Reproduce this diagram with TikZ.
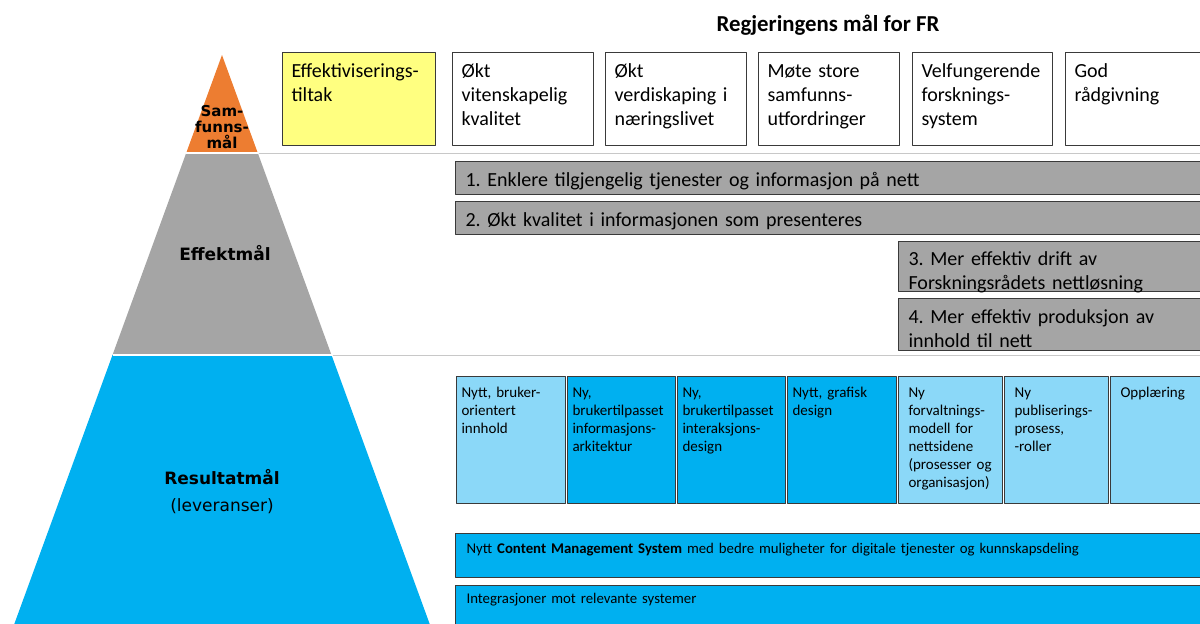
\documentclass[tikz,border=0pt]{standalone}
\usepackage{fontspec}
\setmainfont{Carlito}
\newfontfamily\pyrfont{DejaVu Sans}

\definecolor{samfunn}{HTML}{ED7D31}
\definecolor{effekt}{HTML}{A5A5A5}
\definecolor{resultat}{HTML}{00B0F0}
\definecolor{lysblaa}{HTML}{8BD8F8}
\definecolor{tiltak}{HTML}{FFFF80}
\definecolor{ramme}{HTML}{3A3A3A}
\definecolor{skillelinje}{HTML}{C8C8C8}

\hyphenpenalty=10000
\exhyphenpenalty=10000
\frenchspacing

\tikzset{
  boks/.style={draw=ramme, line width=1.1pt, anchor=north west, inner ysep=0pt, align=left},
  maal/.style={boks, fill=white, inner xsep=9pt, text height=24.5pt, text depth=68.5pt,
    font=\fontsize{20}{24}\selectfont},
  effektbar/.style={boks, fill=effekt, inner xsep=10pt, font=\fontsize{20}{24.5}\selectfont},
  leveranse/.style={boks, text height=20.5pt, text depth=106.5pt, font=\fontsize{15}{18}\selectfont},
  system/.style={boks, fill=resultat, inner xsep=11pt, text width=735pt, font=\fontsize{14.8}{17}\selectfont},
  niva/.style={align=center, inner sep=0pt},
  skille/.style={draw=skillelinje, line width=1pt}
}

\begin{document}
\begin{tikzpicture}[x=1pt, y=-1pt, line join=round]

            \useasboundingbox (0,0) rectangle (1200,624);
            \clip (0,0) rectangle (1200,624);

            % ==========================================
            % 1. Pyramiden
            % ==========================================
            \fill[samfunn] (222,55) -- (257.8,153) -- (186.2,153) -- cycle;
            \fill[effekt] (186.2,153) -- (257.8,153) -- (331.5,355) -- (112.5,355) -- cycle;
            \fill[resultat] (112.5,355) -- (331.5,355) -- (429.7,624) -- (14.3,624) -- cycle;
            \draw[white, line width=1.2pt] (186.2,153) -- (257.8,153);
            \draw[white, line width=1.2pt] (112.5,355) -- (331.5,355);

            \draw[skille] (259,153.5) -- (1200,153.5);
            \draw[skille] (333,355.5) -- (1200,355.5);

            \node[niva, font=\pyrfont\fontsize{15}{16}\selectfont\bfseries] (samfunnsmaal) at (222,127) {Sam-\\funns-\\mål};
            \node[niva, font=\pyrfont\fontsize{17}{20}\selectfont\bfseries] (effektmaal) at (225,253) {Effektmål};
            \node[niva, font=\pyrfont\fontsize{17}{27}\selectfont] (resultatmaal) at (222,492) {\textbf{Resultatmål}\\(leveranser)};

            % ==========================================
            % 2. Regjeringens mål (samfunnsmål)
            % ==========================================
            \node[font=\fontsize{22.8}{26}\selectfont\bfseries, inner sep=0pt] (tittel) at (828,25) {Regjeringens mål for FR};

            \node[maal, fill=tiltak, text width=135pt] (tiltak) at (282,52) {Effektiviserings-\\tiltak};
            \node[maal, text width=123pt] (vitenskap) at (452,52) {Økt\\vitenskapelig\\kvalitet};
            \node[maal, text width=123pt] (verdiskaping) at (605,52) {Økt\\verdiskaping~i\\næringslivet};
            \node[maal, text width=123pt] (utfordringer) at (758,52) {Møte~store\\samfunns-\\utfordringer};
            \node[maal, text width=122pt] (forskningssystem) at (912,52) {Velfungerende\\forsknings-\\system};
            \node[maal, text width=140pt] (raadgivning) at (1065,52) {God\\rådgivning};

            % ==========================================
            % 3. Effektmål
            % ==========================================
            \node[effektbar, text width=740pt, text height=24.5pt, text depth=8.5pt] (effekt1) at (455,161)
                {1. Enklere tilgjengelig tjenester og informasjon på nett};
            \node[effektbar, text width=740pt, text height=25pt, text depth=8pt] (effekt2) at (455,201)
                {2. Økt kvalitet i informasjonen som presenteres};
            \node[effektbar, text width=297pt, text height=23.5pt, text depth=26.5pt] (effekt3) at (898,241)
                {3. Mer effektiv drift av\\Forskningsrådets nettløsning};
            \node[effektbar, text width=297pt, text height=24.5pt, text depth=27.5pt] (effekt4) at (898,298)
                {4. Mer effektiv produksjon av\\innhold til nett};

            % ==========================================
            % 4. Resultatmål (leveranser)
            % ==========================================
            \node[leveranse, fill=lysblaa, inner xsep=5pt, text width=99pt] (innhold) at (456,376)
                {Nytt,~bruker-\\orientert\\innhold};
            \node[leveranse, fill=resultat, inner xsep=5pt, text width=98pt] (arkitektur) at (567,376)
                {Ny,\\brukertilpasset\\informasjons-\\arkitektur};
            \node[leveranse, fill=resultat, inner xsep=5pt, text width=98pt] (interaksjon) at (677,376)
                {Ny,\\brukertilpasset\\interaksjons-\\design};
            \node[leveranse, fill=resultat, inner xsep=5pt, text width=99pt] (grafisk) at (787,376)
                {Nytt,~grafisk\\design};
            \node[leveranse, fill=lysblaa, inner xsep=10pt, text width=84pt] (forvaltning) at (898,376)
                {Ny\\forvaltnings-\\modell~for\\nettsidene\\(prosesser~og\\organisasjon)};
            \node[leveranse, fill=lysblaa, inner xsep=10pt, text width=84pt] (publisering) at (1004,376)
                {Ny\\publiserings-\\prosess,\\-roller};
            \node[leveranse, fill=lysblaa, inner xsep=10pt, text width=95pt] (opplaering) at (1110,376)
                {Opplæring};

            \node[system, text height=19.5pt, text depth=24.5pt] (cms) at (455,533)
                {Nytt \textbf{Content Management System} med bedre muligheter for digitale tjenester og kunnskapsdeling};
            \node[system, text height=17.5pt, text depth=30pt] (integrasjoner) at (455,585)
                {Integrasjoner mot relevante systemer};

\end{tikzpicture}
\end{document}
